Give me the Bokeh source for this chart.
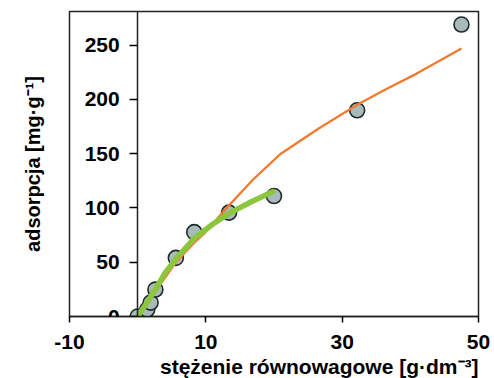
from bokeh.embed import file_html
from bokeh.models import FixedTicker, LinearAxis, Range1d, Title
from bokeh.plotting import figure
from bokeh.resources import INLINE

# Measured equilibrium points
conc = [0.0, 1.4, 1.9, 2.6, 5.6, 8.3, 13.4, 20.0, 32.2, 47.5]
adsorption = [0.0, 6.4, 12.8, 24.8, 54.0, 77.7, 95.7, 111.0, 190.0, 269.0]

# Fitted isotherm over the full range (orange)
fit_x = [0.0, 1.5, 2.6, 5.6, 8.3, 9.7, 13.2, 16.9, 21.0, 26.5, 32.2, 36.0, 41.0, 47.5]
fit_y = [0.0, 12.0, 23.0, 50.0, 68.0, 76.0, 101.0, 126.0, 150.0, 173.0, 195.0, 208.0, 224.0, 247.0]

# Fitted isotherm over the low-concentration range (green)
low_x = [0.0, 1.5, 2.6, 4.0, 5.6, 8.3, 11.0, 13.4, 16.6, 19.8]
low_y = [0.0, 14.0, 25.0, 40.0, 53.0, 72.0, 85.0, 95.0, 105.5, 115.0]

x_ticks = [-10, 10, 30, 50]
y_ticks = [0, 50, 100, 150, 200, 250]

FONT = "Liberation Sans"

p = figure(
    width=494, height=378,
    x_range=Range1d(-10, 50), y_range=Range1d(0, 281),
    output_backend="svg", toolbar_location=None,
    y_axis_location=None,
    min_border_left=69, min_border_right=16,
    min_border_top=11, min_border_bottom=61,
)
p.grid.visible = False
p.outline_line_color = "#222222"
p.outline_line_width = 1.5
p.background_fill_color = "white"
p.border_fill_color = "white"

# x axis along the bottom
xa = p.xaxis[0]
xa.ticker = FixedTicker(ticks=x_ticks)
xa.major_label_overrides = {-10: "-10"}
xa.minor_tick_line_color = None
xa.major_tick_in = 0
xa.major_tick_out = 6
xa.axis_line_color = "#222222"
xa.axis_line_width = 1.5
xa.major_tick_line_width = 1.5
xa.major_label_text_font = FONT
xa.major_label_text_font_style = "bold"
xa.major_label_text_font_size = "21px"
xa.major_label_text_color = "black"
xa.major_label_standoff = 12

# y axis crossing at x = 0 (ticks and numbers only)
ya = LinearAxis(fixed_location=0)
ya.ticker = FixedTicker(ticks=y_ticks)
ya.minor_tick_line_color = None
ya.major_tick_in = 0
ya.major_tick_out = 8
ya.axis_line_color = "#222222"
ya.axis_line_width = 1.5
ya.major_tick_line_width = 1.5
ya.major_label_text_font = FONT
ya.major_label_text_font_style = "bold"
ya.major_label_text_font_size = "21px"
ya.major_label_text_color = "black"
ya.major_label_standoff = 10
p.add_layout(ya, "left")

# bare axis at the frame edge carrying the y title
yt = LinearAxis(ticker=FixedTicker(ticks=[]))
yt.axis_line_color = None
yt.major_tick_line_color = None
yt.minor_tick_line_color = None
yt.major_tick_out = 0
yt.axis_label = "adsorpcja [mg·g⁻¹]"
yt.axis_label_standoff = 26
yt.axis_label_text_font = FONT
yt.axis_label_text_font_style = "bold"
yt.axis_label_text_font_size = "20px"
yt.axis_label_text_color = "black"
p.add_layout(yt, "left")

# data points, then fitted curves on top
p.scatter(conc, adsorption, size=15, fill_color="#a9baba",
          line_color="#1e2b2b", line_width=1.6)
p.line(fit_x, fit_y, line_color="#f37a2e", line_width=2.3)
p.line(low_x, low_y, line_color="#8cc63e", line_width=5.5, line_cap="round")

# x title, flush with the right edge of the frame
p.add_layout(Title(
    text="stężenie równowagowe [g·dm⁻³]", align="right",
    text_font=FONT, text_font_style="bold", text_font_size="21px",
    text_color="black", standoff=2,
), "below")

open("out.html", "w").write(file_html(p, INLINE))
